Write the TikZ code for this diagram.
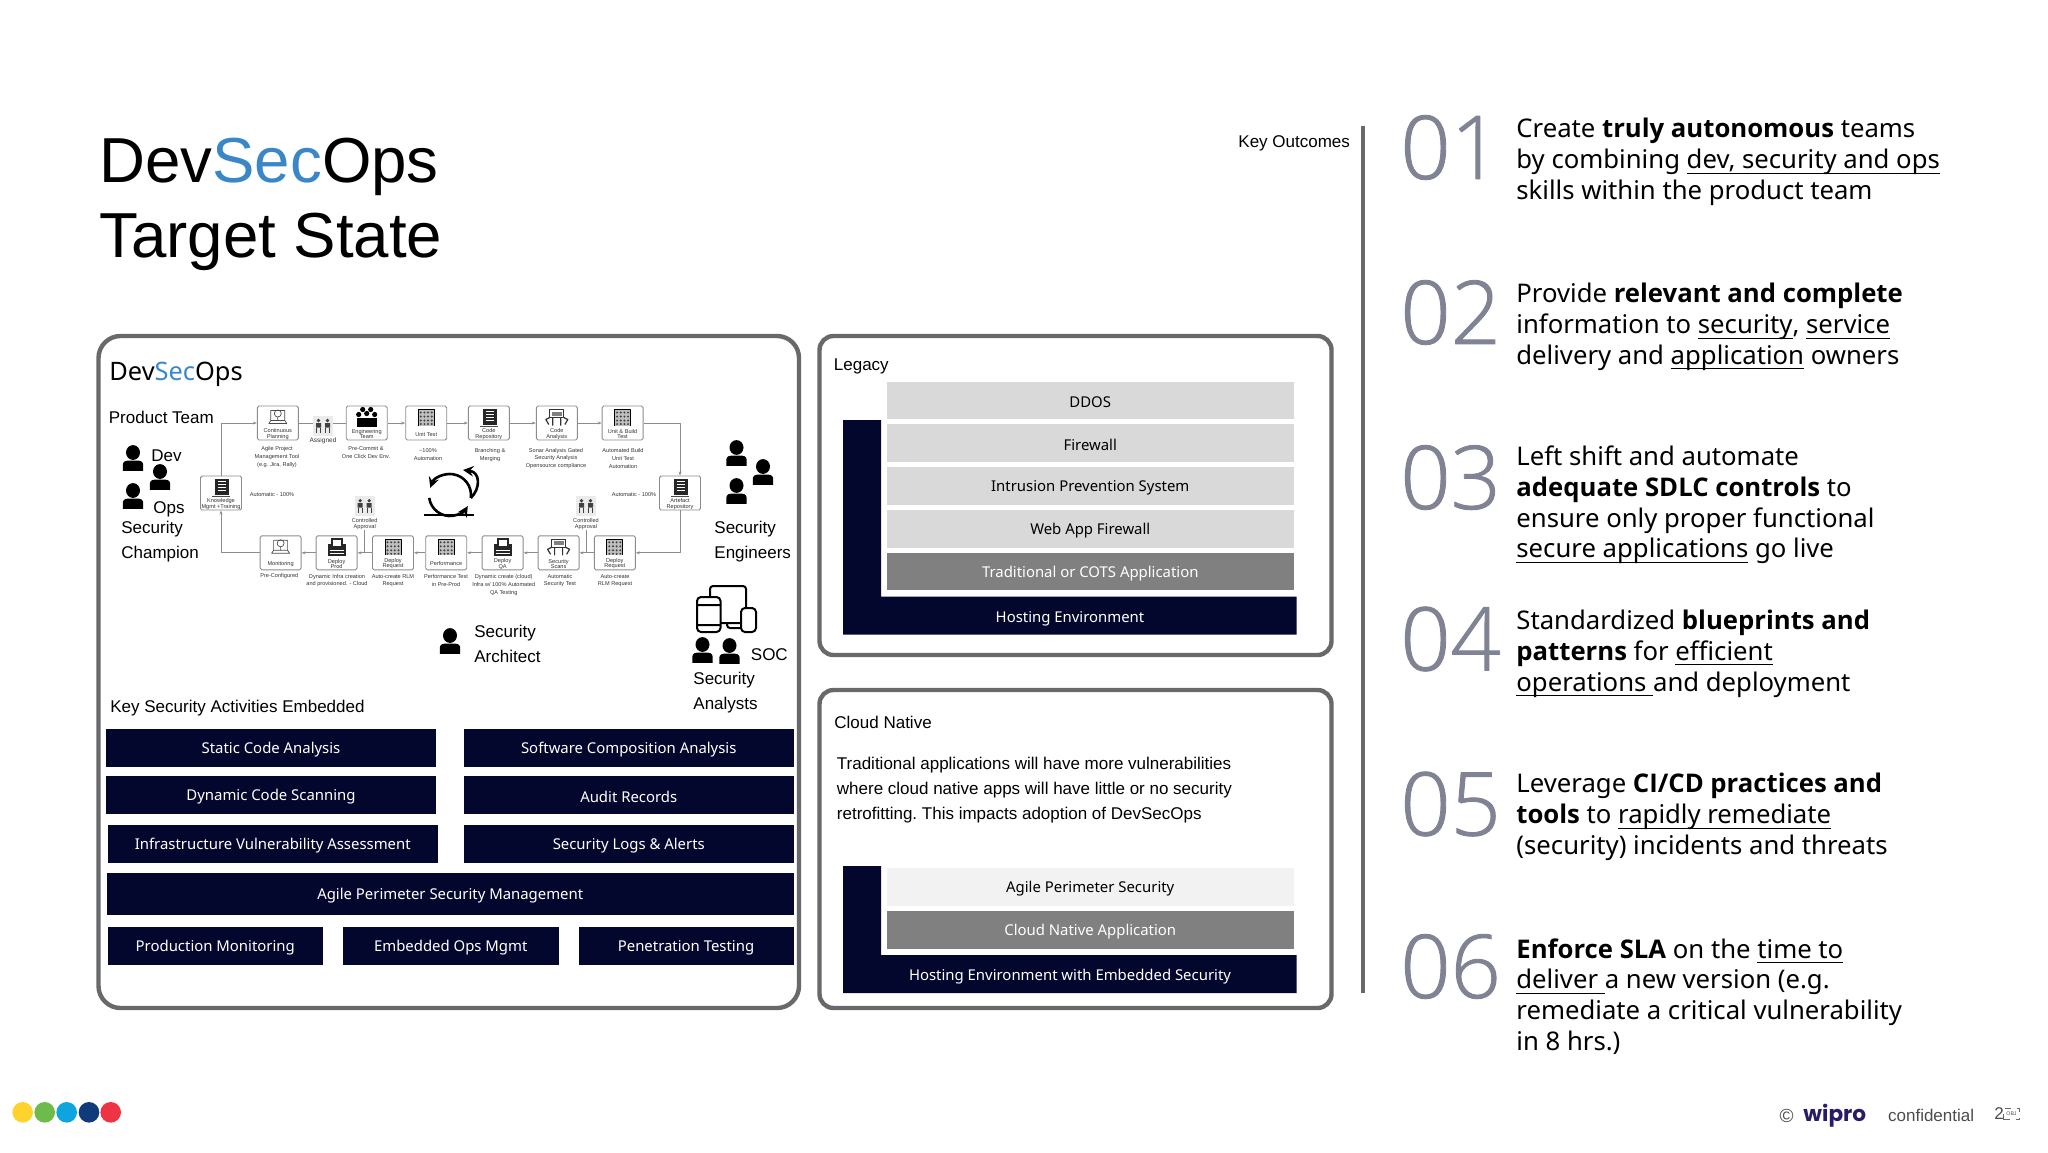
\documentclass[tikz,border=0pt]{standalone}
\usepackage{fontspec}
\usetikzlibrary{arrows.meta}
\setmainfont{Liberation Sans}
\newfontfamily\notofont{Noto Sans}
\newfontfamily\opensans{Open Sans}
\newfontfamily\lightfont{Open Sans Light}[FakeBold=1]
\newfontfamily\wiprofont{Poppins}
\newcommand{\uln}[1]{\setbox0\hbox{#1}\rlap{\rule[-2.5pt]{\wd0}{.45pt}}\box0\relax}
\newcommand{\bd}[1]{{\opensans\bfseries #1}}
\definecolor{navybox}{HTML}{03072E}
\definecolor{panelline}{HTML}{68696B}
\definecolor{secblue}{HTML}{3A87C8}
\definecolor{numgray}{HTML}{7F8394}
\definecolor{flowgray}{HTML}{8C8C8C}
\definecolor{wiprocol}{HTML}{2B1B66}
\tikzset{
 panel/.style={draw=panelline,line width=2.2pt,rounded corners=11pt},
 panelsmall/.style={draw=panelline,line width=2.2pt,rounded corners=7pt},
 boxtxt/.style={font=\notofont\fontsize{7.45}{8}\selectfont,inner sep=0,yshift=-1pt},
 plain/.style={font=\fontsize{8.5}{12.5}\selectfont\frenchspacing,inner sep=0,align=left,anchor=west},
 stagebox/.style={draw=black!45,fill=white,line width=.45pt,rounded corners=.8pt,minimum width=20.5pt,minimum height=17pt,inner sep=0},
 stagetxt/.style={font=\fontsize{2.8}{2.7}\selectfont,align=center,inner sep=0,text=black!80},
 undertxt/.style={font=\fontsize{2.8}{3.85}\selectfont,align=center,inner sep=0,text=black!80},
 flow/.style={draw=flowgray,line width=.5pt},
 flowarrow/.style={flow,-{Stealth[length=2pt,width=1.5pt]}},
 person/.pic={
  \fill (0,-5.5) ellipse[x radius=7,y radius=7.4];
  \fill (-10.2,12.8)--(-10.2,7) .. controls (-10.2,3) and (-7,2.6) .. (-3,2.6)--(3,2.6) .. controls (7,2.6) and (10.2,3) .. (10.2,7)--(10.2,12.8)--cycle;
 },
 laptop/.pic={
  \draw[black!70,line width=.35pt] (-7,3)--(-7,-7)--(7,-7)--(7,3) (-9,6)--(9,6)--(7,3)--(-7,3)--cycle;
  \draw[black!70,line width=.35pt] (0,-4) circle(3.5) (0,-.5)--(0,3);
 },
 team/.pic={
  \foreach \a/\b in {-4/-8,4/-8,-8/-3,0/-4,8/-3}{\fill (\a,\b) circle(2.6);}
  \fill (-10,9) rectangle (10,0);
 },
 board/.pic={
  \fill[black!25] (-8,-8) rectangle (8,8);
  \draw[black,line width=.4pt] (-8,8)--(-8,-8)--(8,-8)--(8,8);
  \foreach \a in {-5.5,-1.8,1.8,5.5}{
   \foreach \b in {-5,-1,3,6.5}{\fill[black!75] (\a,\b) circle(1.1);}
  }
 },
 document/.pic={
  \fill[black!85] (-6,-9) rectangle (8,7);
  \draw[white,line width=.3pt] (-3,-6)--(5,-6) (-3,-3)--(5,-3) (-3,0)--(5,0) (-3,3)--(5,3);
  \draw[black!70,line width=.3pt] (-9,9)--(9,9);
 },
 robot/.pic={
  \draw[black!80,line width=.45pt] (-7,-8) rectangle (7,0);
  \fill[black!50] (-5,-6) rectangle (5,-2);
  \draw[black!80,line width=.6pt] (-8,7)--(-11,2)--(-7,0) (8,7)--(11,2)--(7,0) (-4,0)--(-4,8) (4,0)--(4,8);
 },
 printer/.pic={
  \fill[black!85] (-9,-3) rectangle (9,9);
  \fill[black!85] (-6,-9) rectangle (6,-3);
  \fill[white] (-4,-7) rectangle (4,-1);
  \draw[white,line width=.3pt] (-7,3)--(7,3) (-7,6)--(7,6);
 },
 approval/.pic={
  \fill[black!8] (-10.2,-10) rectangle (10.2,10);
  \foreach \a in {-4.5,4.5}{
   \fill[black!75] (\a,-5) circle(1.8) (\a-2.5,-2.5) rectangle (\a+2.5,2);
   \draw[black!75,line width=.3pt] (\a-2,2)--(\a-2,7) (\a+2,2)--(\a+2,7);
  }
 }
}
\begin{document}
\begin{tikzpicture}[x=.5pt,y=-.5pt,line join=round,>=stealth]
	\useasboundingbox (0,0) rectangle (2048,1152);
	% title
	\node[font=\fontsize{31.8}{38}\selectfont,inner sep=0,anchor=west] (title1) at (99,167) {Dev\textcolor{secblue}{Sec}Ops};
	\node[font=\fontsize{31.8}{38}\selectfont,inner sep=0,anchor=west] (title2) at (99,242) {Target State};
	\node[plain] (keyout) at (1238,143) {Key Outcomes};
	\draw[panelline,line width=2.2pt] (1363,126)--(1363,993);
	% the three panels
	\draw[panel] (98.5,336)rectangle(799,1008);
	\draw[panelsmall] (819.5,336)rectangle(1331.5,655);
	\draw[panelsmall] (819.5,690)rectangle(1331.5,1008);
	\node[boxtxt,font=\notofont\fontsize{12.7}{14}\selectfont,anchor=west,yshift=1pt] (devsec) at (109,374) {Dev\textcolor{secblue}{Sec}Ops};
	% people
	\foreach \x/\y in {133/458,160/477,133/496,736.5/453,763/472,736.5/491,450/641,702.5/650,729.5/651}
	\pic at (\x,\y) {person};
	\foreach \n/\x/\y/\txt in {team/108.5/417/Product Team,dev/151/456/Dev,ops/153/509/Ops,champ/121/542/{Security\\Champion},
		eng/714/542/{Security\\Engineers},arch/474/643.5/{Security\\Architect},soc/750.5/655/SOC,analyst/693/692.5/{Security\\Analysts},
		keysec/110/708/Key Security Activities Embedded}
	\node[plain] (\n) at (\x,\y) {\txt};
	% devices
	\draw[line width=1pt,rounded corners=1.5pt] (710,597)--(710,586)--(746,586)--(746,608) (720.5,623)--(741,623) (727,623)--(727,628)--(741,628);
	\draw[line width=1pt,rounded corners=2pt] (697,597)rectangle(720.5,632) (741,608)rectangle(756,632) (697,605)--(720.5,605) (697,625)--(720.5,625);
	% stages of the delivery flow
	\foreach \n/\x/\y/\ic/\txt in {
		planning/277.8/423/laptop/{Continuous\\Planning},engteam/366.7/423/team/{Engineering\\Team},unittest/426.2/423/board/Unit Test,
		coderepo/488.8/423/document/{Code\\Repository},analysis/556.8/423/robot/{Code\\Analysis},buildtest/622.6/423/board/{Unit \& Build\\Test},
		knowledge/221/493/document/{Knowledge\\Mgmt +Training},artefact/680/493/document/{Artefact\\Repository},
		monitoring/280.6/552.8/laptop/Monitoring,deployprod/336.6/552.8/printer/{Deploy\\Prod},deployreqa/393/552.8/board/{Deploy\\Request},
		performance/446.2/552.8/board/Performance,deployqa/502.6/552.8/printer/{Deploy\\QA},scans/558.6/552.8/robot/{Security\\Scans},
		deployreqb/614.8/552.8/board/{Deploy\\Request}}
	{
		\node[stagebox] (\n) at (\x,\y) {};
		\pic at (\x,\y-5.5) {\ic};
		\node[stagetxt] (\n-t) at (\x,\y+11) {\txt};
	}
	% approvals
	\pic at (323,425.5) {approval};
	\pic at (364.7,505.7) {approval};
	\pic at (586,505.7) {approval};
	\coordinate (assigneda) at (312.8,423);
	\coordinate (assignedb) at (333.2,423);
	\node[undertxt,font=\fontsize{3.25}{4}\selectfont] (assigned) at (323,440.7) {Assigned};
	\node[undertxt,font=\fontsize{2.8}{3.2}\selectfont] (approvala) at (364.7,523.8) {Controlled\\Approval};
	\node[undertxt,font=\fontsize{2.8}{3.2}\selectfont] (approvalb) at (586,523.8) {Controlled\\Approval};
	% flow lines
	\draw[flow] (planning)--(assigneda) (assignedb)--(engteam);
	\foreach \a/\b in {engteam/unittest,unittest/coderepo,coderepo/analysis,analysis/buildtest,deployreqb/scans,scans/deployqa,deployqa/performance,performance/deployreqa,deployreqa/deployprod,deployprod/monitoring}
	\draw[flowarrow] (\a)--(\b);
	\draw[flowarrow] (buildtest.east)-|(artefact.north);
	\draw[flowarrow] (monitoring.west)-|(knowledge.south);
	\draw[flowarrow] (knowledge.north)|-(planning.west);
	\draw[flowarrow] (artefact.south)|-(deployreqb.east);
	\draw[flow] (approvala.south)--(approvala.south|-deployprod.east);
	\draw[flow] (approvalb.south)--(approvalb.south|-scans.east);
	% notes around the stages
	\foreach \n/\x/\y/\txt in {
		nta/277/457/{Agile Project\\Management Tool\\(e.g. Jira, Rally)},ntb/366/452.7/{Pre-Commit \&\\One Click Dev Env.},ntc/428/454.7/{\textasciitilde100\%\\Automation},
		ntd/490/454.7/{Branching \&\\Merging},nte/556/458.3/{Sonar Analysis  Gated\\Security Analysis\\Opensource compliance},ntf/623/458.3/{Automated Build\\Unit Test\\Automation},
		ntg/272/494/{Automatic - 100\%},nth/634/494/{Automatic - 100\%},
		nba/279.3/576/Pre-Configured,nbb/337/580.5/{Dynamic Infra creation\\and provisioned. - Cloud},nbc/393/580.5/{Auto-create RLM\\Request},
		nbd/446/580.5/{Performance Test\\in Pre-Prod},nbe/503.7/585/{Dynamic create (cloud)\\Infra w/ 100\% Automated\\QA Testing},
		nbf/560/580.5/{Automatic\\Security Test},nbg/615/580.5/{Auto-create\\RLM Request}}
	\node[undertxt] (\n) at (\x,\y) {\txt};
	% cycle
	\draw[line width=1.3pt,->] (450,495) ++(8:21) arc[start angle=8,end angle=-160,radius=21];
	\draw[line width=1.3pt,->] (450,495) ++(172:21) arc[start angle=172,end angle=32,radius=21];
	\draw[line width=1.3pt,->] (470.8,498) .. controls (481,488) and (480,472) .. (463,470);
	\draw[line width=1.3pt] (424,515)--(474,515);
	% activities
	\foreach \n/\xa/\ya/\xb/\yb/\txt in {
		sca/106/729/436/767/Static Code Analysis,soft/464/729/793.5/767/Software Composition Analysis,
		dyn/106/776/436/814/Dynamic Code Scanning,audit/464/776/793.5/814/Audit Records,
		infra/108/825/437.5/863/Infrastructure Vulnerability Assessment,logs/464/825/793.5/863/Security Logs \& Alerts,
		agile/107/873/793.5/915/Agile Perimeter Security Management,
		prod/108/927/322.5/965/Production Monitoring,embed/343/927/558.5/965/Embedded Ops Mgmt,pen/578.5/927/793.5/965/Penetration Testing}
	\fill[navybox] (\xa,\ya) rectangle node[boxtxt,white] (\n) {\txt} (\xb,\yb);
	% legacy stack
	\node[plain] (legacy) at (833.5,366) {Legacy};
	\fill[navybox] (843,420)--(881,420)--(881,596.7)--(1296.5,596.7)--(1296.5,634.7)--(843,634.7)--cycle;
	\node[boxtxt,white] (hosta) at (1070,616.7) {Hosting Environment};
	\foreach \n/\ya/\yb/\col/\tc/\txt in {
		ddos/381.7/419.3/black!15/black/DDOS,fire/424/462/black!15/black/Firewall,ips/467/505/black!15/black/Intrusion Prevention System,
		waf/510/547.7/black!15/black/Web App Firewall,cots/552.7/590.3/black!50/white/Traditional or COTS Application}
	\fill[\col] (886.5,\ya) rectangle node[boxtxt,text=\tc] (\n) {\txt} (1294,\yb);
	% cloud native stack
	\node[plain] (cloud) at (834,722) {Cloud Native};
	\node[plain] (cloudnote) at (836.5,790) {Traditional applications will have more vulnerabilities\\where cloud native apps will have little or no security\\retrofitting. This impacts adoption of DevSecOps};
	\fill[navybox] (843,866)--(881,866)--(881,955)--(1296.5,955)--(1296.5,993)--(843,993)--cycle;
	\node[boxtxt,white] (hostb) at (1070,974.7) {Hosting Environment with Embedded Security};
	\foreach \n/\ya/\yb/\col/\tc/\txt in {
		perim/867.7/906/black!5/black/Agile Perimeter Security,cna/910.7/948.7/black!50/white/Cloud Native Application}
	\fill[\col] (886.5,\ya) rectangle node[boxtxt,text=\tc] (\n) {\txt} (1294,\yb);
	% outcomes
	\foreach \n/\num/\ny/\ty/\txt in {
		one/01/147.5/162/{Create \bd{truly autonomous} teams\\by combining \uln{dev, security and ops}\\skills within the product team},
		two/02/312.5/327/{Provide \bd{relevant and complete}\\information to \uln{security}, \uln{service}\\delivery and \uln{application} owners},
		three/03/477.5/505/{Left shift and automate\\\bd{adequate SDLC controls} to\\ensure only proper functional\\\uln{secure applications} go live},
		four/04/639/653.7/{Standardized \bd{blueprints and}\\\bd{patterns} for \uln{efficient}\\\uln{operations\ }and deployment},
		five/05/804/817/{Leverage \bd{CI/CD practices and}\\\bd{tools} to \uln{rapidly remediate}\\(security) incidents and threats},
		six/06/966.5/996.5/{\bd{Enforce SLA} on the \uln{time to}\\\uln{deliver\ }a new version (e.g.\\remediate a critical vulnerability\\in 8 hrs.)}}
	{
		\node[inner sep=0,anchor=west,text=numgray,font=\lightfont\fontsize{44}{50}\selectfont] (num\n) at (1400,\ny) {\num};
		\node[inner sep=0,anchor=west,align=left,font=\notofont\fontsize{12.85}{15.35}\selectfont] (out\n) at (1516,\ty) {\txt};
	}
	% footer
	\foreach \x/\col in {22.7/FFD32E,44.7/6CBB4B,66.7/0DA5DF,89/0F3B7A,110.7/EE3342}{
		\definecolor{dotcol}{HTML}{\col}
		\fill[dotcol] (\x,1112.3) circle(10.3);
	}
	\node[inner sep=0,text=black!70,font=\fontsize{9.5}{10}\selectfont] (copyr) at (1786.7,1116) {©};
	\node[inner sep=0,anchor=west,text=wiprocol,font=\wiprofont\bfseries\fontsize{10.8}{12}\selectfont] (wipro) at (1803,1116) {wipro};
	\node[plain,text=black!70] (conf) at (1887.7,1115.7) {confidential};
	\node[plain,text=black!70] (pagenum) at (1994,1114) {2};
	\node[draw=black!60,dashed,line width=.25pt,inner sep=0,minimum width=8pt,minimum height=5.5pt,font=\fontsize{2.6}{3}\selectfont,text=black!70] (obj) at (2011.5,1114) {OBJ};
\end{tikzpicture}
\end{document}
